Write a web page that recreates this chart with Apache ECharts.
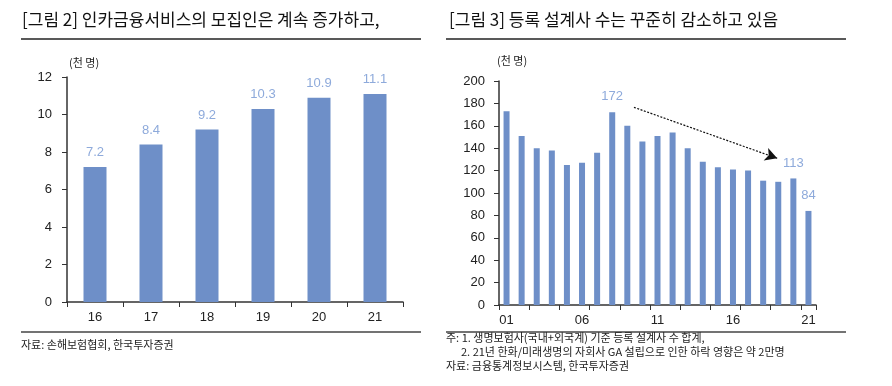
<!DOCTYPE html>
<html><head><meta charset="utf-8">
<script src="https://cdn.jsdelivr.net/npm/echarts@6/dist/echarts.min.js"></script>
<style>html,body{margin:0;padding:0;background:#fff;}#c{width:892px;height:386px;}</style>
</head><body><div id="c"></div>
<script>
const leftCategories = ['16','17','18','19','20','21'];
const leftValues = [7.2, 8.4, 9.2, 10.3, 10.9, 11.1];
const leftYTicks = [0, 2, 4, 6, 8, 10, 12];

const rightCategories = ['01','02','03','04','05','06','07','08','09','10','11','12','13','14','15','16','17','18','19','20','21'];
const rightValues = [173,151,140,138,125,127,136,172,160,146,151,154,140,128,123,121,120,111,110,113,84];
const rightLabelIdx = [7, 19, 20];
const rightYTicks = [0,20,40,60,80,100,120,140,160,180,200];
const arrowFrom = [8.94, 176.5];
const arrowTo = [18.43, 131];

const FONT = '"Liberation Sans", "Noto Sans CJK KR", sans-serif';
const KFONT = '"Noto Sans CJK KR", sans-serif';
const BAR = '#6e8fc8';
const LBL = '#8eaadb';
const AX = '#333';

const chart = echarts.init(document.getElementById('c'), null, {renderer:'canvas'});

function yAx(grid, max, interval, margin){
  return {type:'value', gridIndex:grid, min:0, max:max, interval:interval,
    axisLine:{show:true, lineStyle:{color:AX, width:1.5}},
    axisTick:{show:true, length:5, lineStyle:{color:AX}},
    splitLine:{show:false},
    axisLabel:{color:'#222', fontSize:13, fontFamily:FONT, margin:margin}};
}

chart.setOption({
  animation:false,
  grid:[
    {left:67, right:489, top:77, bottom:84},
    {left:499, right:76, top:81, bottom:81}
  ],
  xAxis:[
    {type:'category', gridIndex:0, data:leftCategories,
      axisLine:{lineStyle:{color:AX, width:1.5}},
      axisTick:{show:true, length:5, lineStyle:{color:AX}},
      axisLabel:{color:'#222', fontSize:13, fontFamily:FONT, margin:9}},
    {type:'category', gridIndex:1, data:rightCategories,
      axisLine:{lineStyle:{color:AX, width:1.5}},
      axisTick:{show:true, length:5, interval:function(i){return i%2===0;}, lineStyle:{color:AX}},
      axisLabel:{color:'#222', fontSize:13, fontFamily:FONT, margin:9, interval:4}},
    {type:'value', gridIndex:1, min:0, max:21, show:false}
  ],
  yAxis:[ yAx(0, 12, 2, 15), yAx(1, 200, 20, 14) ],
  series:[
    {type:'bar', xAxisIndex:0, yAxisIndex:0, data:leftValues, barWidth:23,
      itemStyle:{color:BAR},
      label:{show:true, position:'top', distance:8, color:LBL, fontSize:13, fontFamily:FONT,
        formatter:function(p){return p.value.toFixed(1);}}},
    {type:'bar', xAxisIndex:1, yAxisIndex:1, data:rightValues.map(function(v,i){
        return {value:v, label:{show: rightLabelIdx.indexOf(i)>=0}};
      }), barWidth:6,
      itemStyle:{color:BAR},
      label:{show:false, position:'top', distance:9, color:LBL, fontSize:13, fontFamily:FONT}},
    {type:'line', xAxisIndex:2, yAxisIndex:1, data:[], silent:true,
      markLine:{silent:true, symbol:['none','arrow'], symbolSize:[10,12],
        lineStyle:{color:'#111', type:[2,1.5], width:1.2},
        label:{show:false},
        data:[[{coord:arrowFrom},{coord:arrowTo}]]}}
  ],
  graphic:[
    {type:'text', left:22, top:11, style:{text:'[그림 2] 인카금융서비스의 모집인은 계속 증가하고,', font:'17px '+KFONT, fill:'#111'}},
    {type:'line', shape:{x1:21, y1:39, x2:421, y2:39}, style:{stroke:'#222', lineWidth:1.5}},
    {type:'text', left:449, top:11, style:{text:'[그림 3] 등록 설계사 수는 꾸준히 감소하고 있음', font:'17px '+KFONT, fill:'#111'}},
    {type:'line', shape:{x1:446, y1:39, x2:846, y2:39}, style:{stroke:'#222', lineWidth:1.5}},
    {type:'text', left:69, top:57, style:{text:'(천 명)', font:'11px '+KFONT, fill:'#222'}},
    {type:'text', left:497, top:55, style:{text:'(천 명)', font:'11px '+KFONT, fill:'#222'}},
    {type:'line', shape:{x1:21, y1:332, x2:421, y2:332}, style:{stroke:'#444', lineWidth:1.5}},
    {type:'text', left:21, top:339, style:{text:'자료: 손해보험협회, 한국투자증권', font:'11px '+KFONT, fill:'#222'}},
    {type:'line', shape:{x1:446, y1:332, x2:846, y2:332}, style:{stroke:'#444', lineWidth:1.5}},
    {type:'text', left:446, top:332, style:{text:'주: 1. 생명보험사(국내+외국계) 기준 등록 설계사 수 합계,', font:'11px '+KFONT, fill:'#222'}},
    {type:'text', left:461, top:346, style:{text:'2. 21년 한화/미래생명의 자회사 GA 설립으로 인한 하락 영향은 약 2만명', font:'11px '+KFONT, fill:'#222'}},
    {type:'text', left:446, top:360, style:{text:'자료: 금융통계정보시스템, 한국투자증권', font:'11px '+KFONT, fill:'#222'}}
  ]
});
</script>
</body></html>
